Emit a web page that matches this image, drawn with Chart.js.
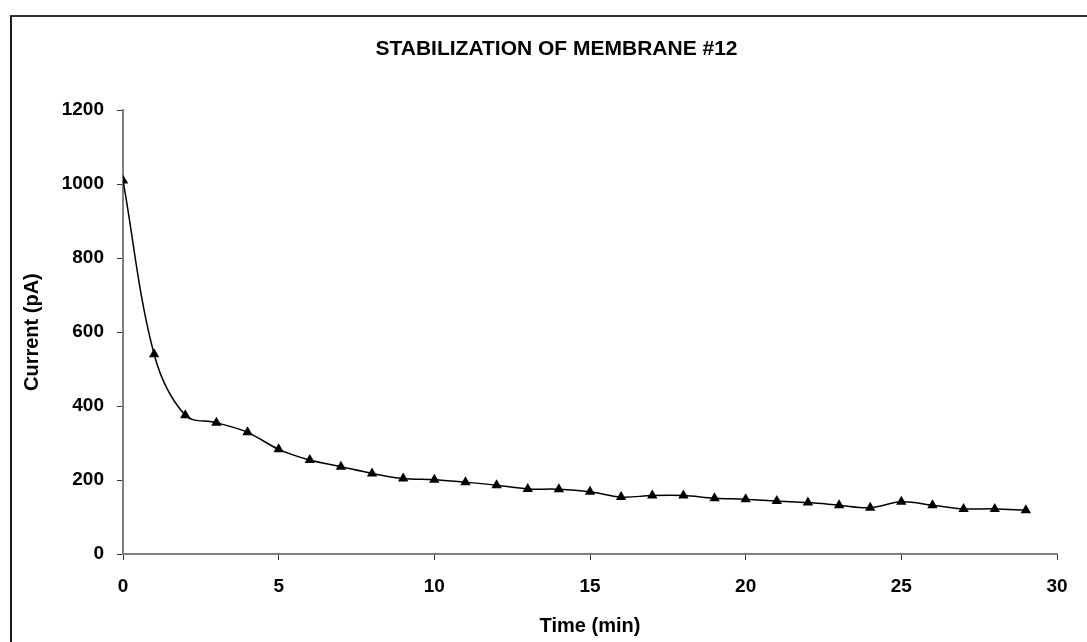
<!DOCTYPE html>
<html>
<head>
<meta charset="utf-8">
<script src="https://cdn.jsdelivr.net/npm/chart.js@4/dist/chart.umd.min.js"></script>
<style>
  html, body { margin: 0; padding: 0; background: #ffffff; }
  #wrap { position: relative; width: 1087px; height: 642px; overflow: hidden; }
  #frame { position: absolute; left: 10px; top: 15px; width: 1200px; height: 700px;
           border-top: 2px solid #333333; border-left: 2px solid #1a1a1a; z-index: 0; }
  canvas { position: absolute; left: 0; top: 0; z-index: 1; }
</style>
</head>
<body>
<div id="wrap">
  <div id="frame"></div>
  <canvas id="c" width="1087" height="642"></canvas>
</div>
<script>
const chartTitle = "STABILIZATION OF MEMBRANE #12";
const xTitle = "Time (min)";
const yTitle = "Current (pA)";
const timeMin = [0, 1, 2, 3, 4, 5, 6, 7, 8, 9, 10, 11, 12, 13, 14, 15, 16, 17, 18, 19, 20, 21, 22, 23, 24, 25, 26, 27, 28, 29];
const currentPA = [1010, 540, 375, 355, 329, 283, 254, 236, 218, 204, 201, 194, 186, 176, 175, 168, 154, 158, 158, 151, 148, 143, 139, 132, 125, 141, 132, 122, 122, 118];
const xTicksRange = [0, 30, 5];
const yTicksRange = [0, 1200, 200];

const points = timeMin.map((t, i) => ({ x: t, y: currentPA[i] }));
const FONT = "'Liberation Sans', Arial, Helvetica, sans-serif";

const shiftTitle = {
  id: 'shiftTitle',
  afterLayout(chart) {
    if (chart.titleBlock) { chart.titleBlock.left += 46; }
  }
};

new Chart(document.getElementById('c'), {
  type: 'line',
  data: {
    datasets: [{
      data: points,
      borderColor: '#000000',
      borderWidth: 1.5,
      backgroundColor: '#000000',
      pointStyle: 'triangle',
      pointRadius: 6,
      pointBackgroundColor: '#000000',
      pointBorderColor: '#000000',
      pointBorderWidth: 0,
      tension: 0.35,
      fill: false
    }]
  },
  plugins: [shiftTitle],
  options: {
    responsive: false,
    devicePixelRatio: 1,
    animation: false,
    layout: { padding: { left: 10, right: 30, top: 0, bottom: 0 } },
    plugins: {
      legend: { display: false },
      tooltip: { enabled: false },
      title: {
        display: true,
        text: chartTitle,
        color: '#000000',
        font: { family: FONT, size: 21, weight: 'bold', lineHeight: 1.2 },
        padding: { top: 37, bottom: 48 }
      }
    },
    scales: {
      x: {
        type: 'linear',
        min: xTicksRange[0],
        max: xTicksRange[1],
        afterFit: (s) => { s.height = 88; },
        ticks: {
          stepSize: xTicksRange[2],
          color: '#000000',
          padding: 15,
          maxRotation: 0,
          callback: (v) => String(v),
          font: { family: FONT, size: 19, weight: 'bold' }
        },
        grid: { drawOnChartArea: false, drawTicks: true, tickLength: 6, color: '#333333', lineWidth: 1 },
        border: { display: true, color: '#808080', width: 2 },
        title: {
          display: true,
          text: xTitle,
          color: '#000000',
          font: { family: FONT, size: 20, weight: 'bold', lineHeight: 1.2 },
          padding: { top: 4, bottom: 4 }
        }
      },
      y: {
        type: 'linear',
        min: yTicksRange[0],
        max: yTicksRange[1],
        afterFit: (s) => { s.width = 113; },
        ticks: {
          stepSize: yTicksRange[2],
          color: '#000000',
          padding: 13,
          callback: (v) => String(v),
          font: { family: FONT, size: 19, weight: 'bold' }
        },
        grid: { drawOnChartArea: false, drawTicks: true, tickLength: 6, color: '#333333', lineWidth: 1 },
        border: { display: true, color: '#808080', width: 2 },
        title: {
          display: true,
          text: yTitle,
          color: '#000000',
          font: { family: FONT, size: 20, weight: 'bold', lineHeight: 1.2 },
          padding: { top: 10, bottom: 0 }
        }
      }
    }
  }
});
</script>
</body>
</html>
